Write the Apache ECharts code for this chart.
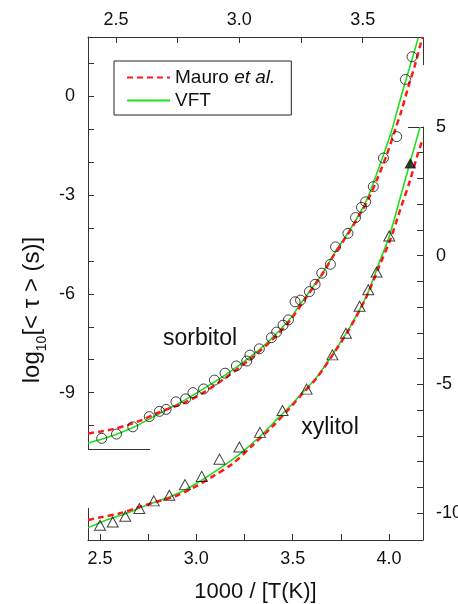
<!DOCTYPE html>
<html>
<head>
<meta charset="utf-8">
<script src="https://cdn.jsdelivr.net/npm/echarts@6.0.0/dist/echarts.min.js"></script>
<style>
  html, body { margin: 0; padding: 0; background: #fff; }
  #chart { width: 458px; height: 604px; }
</style>
</head>
<body>
<div id="chart"></div>
<script>
// sorbitol: top x axis + left y axis
var sorbitolX = [2.442, 2.502, 2.568, 2.635, 2.676, 2.703, 2.743, 2.782, 2.812, 2.855, 2.899, 2.942, 2.988, 3.030, 3.043, 3.081, 3.130, 3.151, 3.177, 3.199, 3.226, 3.248, 3.284, 3.307, 3.334, 3.369, 3.390, 3.440, 3.471, 3.495, 3.512, 3.543, 3.584, 3.638, 3.673, 3.700];
var sorbitolY = [-10.39, -10.26, -10.04, -9.73, -9.57, -9.51, -9.28, -9.19, -9.00, -8.89, -8.62, -8.41, -8.19, -8.04, -7.86, -7.67, -7.33, -7.16, -6.95, -6.79, -6.24, -6.19, -5.93, -5.71, -5.37, -5.10, -4.57, -4.16, -3.68, -3.37, -3.20, -2.74, -1.87, -1.22, 0.52, 1.21];

var sorbVftX = [2.387, 2.435, 2.500, 2.569, 2.638, 2.703, 2.780, 2.853, 2.942, 3.043, 3.124, 3.205, 3.246, 3.286, 3.335, 3.388, 3.440, 3.489, 3.516, 3.543, 3.584, 3.618, 3.644, 3.671, 3.699, 3.725];
var sorbVftY = [-10.53, -10.43, -10.27, -10.06, -9.79, -9.53, -9.22, -8.89, -8.47, -7.92, -7.40, -6.76, -6.32, -5.91, -5.40, -4.73, -4.15, -3.54, -3.15, -2.63, -1.78, -1.02, -0.31, 0.40, 1.11, 1.78];

var sorbMauroX = [2.387, 2.439, 2.488, 2.549, 2.609, 2.658, 2.719, 2.780, 2.861, 2.942, 3.043, 3.124, 3.205, 3.286, 3.335, 3.388, 3.440, 3.489, 3.521, 3.557, 3.597, 3.631, 3.658, 3.685, 3.712, 3.739, 3.744];
var sorbMauroY = [-10.24, -10.18, -10.11, -9.98, -9.82, -9.65, -9.47, -9.30, -8.97, -8.56, -7.99, -7.46, -6.81, -5.94, -5.41, -4.76, -4.18, -3.57, -3.15, -2.54, -1.78, -1.02, -0.41, 0.30, 0.96, 1.72, 1.81];

// xylitol: bottom x axis + right y axis
var xylitolX = [2.500, 2.566, 2.631, 2.704, 2.779, 2.860, 2.941, 3.028, 3.120, 3.223, 3.330, 3.447, 3.572, 3.706, 3.776, 3.847, 3.892, 3.935, 4.001];
var xylitolY = [-10.47, -10.34, -10.12, -9.82, -9.52, -9.30, -8.89, -8.57, -7.90, -7.43, -6.86, -6.01, -5.18, -3.85, -3.01, -1.96, -1.32, -0.63, 0.77];
var xylFilledX = [4.110];
var xylFilledY = [3.58];

var xylVftX = [2.438, 2.531, 2.635, 2.739, 2.860, 2.946, 3.033, 3.119, 3.223, 3.327, 3.430, 3.500, 3.538, 3.625, 3.711, 3.797, 3.884, 3.953, 4.001, 4.057, 4.109, 4.161];
var xylVftY = [-10.56, -10.27, -10.01, -9.69, -9.37, -9.08, -8.69, -8.27, -7.71, -7.04, -6.26, -5.74, -5.42, -4.71, -3.78, -2.77, -1.54, -0.18, 0.76, 2.23, 3.63, 5.00];

var xylMauroX = [2.438, 2.496, 2.600, 2.704, 2.791, 2.894, 2.981, 3.085, 3.189, 3.292, 3.396, 3.482, 3.538, 3.625, 3.711, 3.797, 3.884, 3.953, 4.005, 4.057, 4.109, 4.150, 4.176];
var xylMauroY = [-10.26, -10.17, -10.01, -9.76, -9.56, -9.33, -9.02, -8.57, -8.07, -7.36, -6.62, -5.94, -5.46, -4.74, -3.81, -2.80, -1.57, -0.33, 0.60, 1.77, 2.93, 3.98, 4.56];

// ticks
var topTicks = [2.5, 2.75, 3.0, 3.25, 3.5];
var topLabels = [2.5, 3.0, 3.5];
var bottomTicks = [2.5, 2.75, 3.0, 3.25, 3.5, 3.75, 4.0];
var bottomLabels = [2.5, 3.0, 3.5, 4.0];
var leftTicks = [-10, -9, -8, -7, -6, -5, -4, -3, -2, -1, 0, 1];
var leftLabels = [-9, -6, -3, 0];
var rightTicks = [-10, -9, -8, -7, -6, -5, -4, -3, -2, -1, 0, 1, 2, 3, 4, 5];
var rightLabels = [-10, -5, 0, 5];

function zip(xs, ys) {
    return xs.map(function (x, i) { return [x, ys[i]]; });
}

var FONT = 'Liberation Sans, Arial, sans-serif';
var RED = '#ff1a1a';
var GREEN = '#1ee01e';
var AXIS = '#333';

var chart = echarts.init(document.getElementById('chart'));

function axisCommon(ticks, labels, fmt, margin) {
    return {
        axisLine: { show: true, onZero: false, lineStyle: { color: AXIS, width: 1 } },
        axisTick: { show: true, inside: true, length: 6, customValues: ticks, lineStyle: { color: AXIS } },
        axisLabel: { customValues: labels, color: '#111', fontSize: 18, fontFamily: FONT, formatter: fmt, margin: margin },
        splitLine: { show: false }
    };
}

function fmt1(v) { return v.toFixed(1); }
function fmt0(v) { return String(Math.round(v)); }

var option = {
    animation: false,
    grid: [
        { left: 88, top: 37, width: 335, height: 412, containLabel: false, outerBoundsMode: 'none' },
        { left: 88, top: 127, width: 335, height: 413, containLabel: false, outerBoundsMode: 'none' }
    ],
    xAxis: [
        Object.assign({ type: 'value', gridIndex: 0, position: 'top', min: 2.3865, max: 3.7444 },
            axisCommon(topTicks, topLabels, fmt1, 8)),
        Object.assign({ type: 'value', gridIndex: 1, position: 'bottom', min: 2.4377, max: 4.176,
            name: '1000 / [T(K)]', nameLocation: 'middle', nameGap: 41,
            nameTextStyle: { fontSize: 22, fontFamily: FONT, color: '#111' } },
            axisCommon(bottomTicks, bottomLabels, fmt1, 10))
    ],
    yAxis: [
        Object.assign({ type: 'value', gridIndex: 0, position: 'left', min: -10.714, max: 1.809 },
            axisCommon(leftTicks, leftLabels, fmt0, 13)),
        Object.assign({ type: 'value', gridIndex: 1, position: 'right', min: -11.04, max: 5 },
            axisCommon(rightTicks, rightLabels, fmt0, 13))
    ],
    legend: {
        data: ['Mauro et al.', 'VFT'],
        orient: 'vertical',
        left: 114,
        top: 61,
        borderColor: '#222',
        borderWidth: 1,
        padding: [7, 16, 5, 12],
        itemGap: 4,
        itemWidth: 43,
        itemHeight: 14,
        itemStyle: { opacity: 0 },
        textStyle: {
            fontSize: 19, fontFamily: FONT, color: '#111',
            rich: {
                n: { fontSize: 19, fontFamily: FONT, color: '#111' },
                i: { fontSize: 19, fontFamily: FONT, color: '#111', fontStyle: 'italic' }
            }
        },
        formatter: function (name) {
            return name === 'Mauro et al.' ? '{n|Mauro }{i|et al.}' : '{n|VFT}';
        }
    },
    series: [
        {
            name: 'VFT', type: 'line', xAxisIndex: 0, yAxisIndex: 0,
            data: zip(sorbVftX, sorbVftY), symbol: 'none', smooth: 0.3, z: 2,
            itemStyle: { color: GREEN }, lineStyle: { color: GREEN, width: 1.6 }
        },
        {
            name: 'Mauro et al.', type: 'line', xAxisIndex: 0, yAxisIndex: 0,
            data: zip(sorbMauroX, sorbMauroY), symbol: 'none', smooth: 0.3, z: 3,
            itemStyle: { color: RED }, lineStyle: { color: RED, width: 2.5, type: [6, 4] }
        },
        {
            name: 'VFT', type: 'line', xAxisIndex: 1, yAxisIndex: 1,
            data: zip(xylVftX, xylVftY), symbol: 'none', smooth: 0.3, z: 2,
            itemStyle: { color: GREEN }, lineStyle: { color: GREEN, width: 1.6 }
        },
        {
            name: 'Mauro et al.', type: 'line', xAxisIndex: 1, yAxisIndex: 1,
            data: zip(xylMauroX, xylMauroY), symbol: 'none', smooth: 0.3, z: 3,
            itemStyle: { color: RED }, lineStyle: { color: RED, width: 2.5, type: [6, 4] }
        },
        {
            name: 'sorbitol', type: 'scatter', xAxisIndex: 0, yAxisIndex: 0,
            data: zip(sorbitolX, sorbitolY), symbol: 'circle', symbolSize: 10, z: 4,
            itemStyle: { color: 'rgba(0,0,0,0)', borderColor: '#111', borderWidth: 1 }
        },
        {
            name: 'xylitol', type: 'scatter', xAxisIndex: 1, yAxisIndex: 1,
            data: zip(xylitolX, xylitolY), symbol: 'triangle', symbolSize: [11, 10], z: 4,
            itemStyle: { color: 'rgba(0,0,0,0)', borderColor: '#111', borderWidth: 1 }
        },
        {
            name: 'xylitol overlap', type: 'scatter', xAxisIndex: 1, yAxisIndex: 1,
            data: zip(xylFilledX, xylFilledY), symbol: 'triangle', symbolSize: [10, 9], z: 4,
            itemStyle: { color: '#111', borderColor: '#111', borderWidth: 1 }
        }
    ],
    graphic: [
        { type: 'line', shape: { x1: 423.5, y1: 37, x2: 423.5, y2: 65 }, style: { stroke: AXIS, lineWidth: 1 } },
        { type: 'line', shape: { x1: 88, y1: 449.5, x2: 150, y2: 449.5 }, style: { stroke: AXIS, lineWidth: 1 } },
        { type: 'line', shape: { x1: 88.5, y1: 508, x2: 88.5, y2: 540 }, style: { stroke: AXIS, lineWidth: 1 } },
        { type: 'line', shape: { x1: 408, y1: 127.5, x2: 423, y2: 127.5 }, style: { stroke: AXIS, lineWidth: 1 } },
        {
            type: 'text', x: 200, y: 339,
            style: { text: 'sorbitol', font: '23px ' + FONT, fill: '#111', align: 'center', verticalAlign: 'middle' }
        },
        {
            type: 'text', x: 330, y: 428,
            style: { text: 'xylitol', font: '23px ' + FONT, fill: '#111', align: 'center', verticalAlign: 'middle' }
        },
        {
            type: 'text', x: 35, y: 310, rotation: Math.PI / 2,
            style: {
                text: '{a|log}{b|10}{a|[< τ > (s)]}',
                align: 'center', verticalAlign: 'middle', fill: '#111',
                rich: {
                    a: { fontSize: 24, fontFamily: FONT, fill: '#111', verticalAlign: 'bottom', padding: [0, 0, 5, 0] },
                    b: { fontSize: 14, fontFamily: FONT, fill: '#111', verticalAlign: 'bottom' }
                }
            }
        }
    ]
};

chart.setOption(option);
</script>
</body>
</html>
